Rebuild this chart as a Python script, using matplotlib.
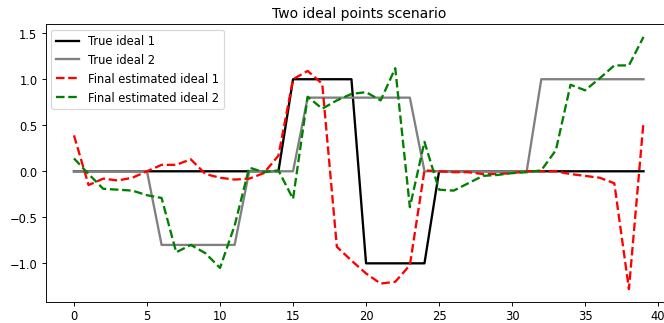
import numpy as np
import matplotlib
matplotlib.use("Agg")
import matplotlib.pyplot as plt

x = np.arange(40)
true_ideal_1 = [0]*15 + [1]*5 + [-1]*5 + [0]*15
true_ideal_2 = [0]*6 + [-0.8]*6 + [0]*4 + [0.8]*8 + [0]*8 + [1]*8
est_ideal_1 = [0.39, -0.15, -0.08, -0.10, -0.07, 0.0, 0.07, 0.07, 0.13, -0.03,
               -0.07, -0.09, -0.08, -0.02, 0.17, 1.0, 1.09, 0.95, -0.82, -0.97,
               -1.11, -1.22, -1.20, -1.02, 0.01, 0.0, -0.01, -0.01, -0.03, -0.03,
               -0.02, 0.0, 0.0, 0.0, -0.03, -0.05, -0.07, -0.13, -1.28, 0.54]
est_ideal_2 = [0.14, -0.03, -0.19, -0.20, -0.21, -0.26, -0.29, -0.88, -0.80, -0.89,
               -1.05, -0.59, 0.04, -0.01, 0.01, -0.30, 0.81, 0.68, 0.77, 0.84,
               0.86, 0.77, 1.12, -0.39, 0.32, -0.20, -0.21, -0.13, -0.05, -0.04,
               -0.02, -0.01, 0.01, 0.23, 0.94, 0.88, 1.01, 1.15, 1.15, 1.46]
xticks = [0, 5, 10, 15, 20, 25, 30, 35, 40]

fig = plt.figure(figsize=(8, 3.9), dpi=83)
ax = fig.add_subplot(111)
# axes runs past the right edge of the image (the reference is cropped there)
fig.subplots_adjust(left=45.5/664, right=672/664, top=1-25/324, bottom=1-302.7/324)
ax.plot(x, true_ideal_1, color='black', lw=2, label='True ideal 1')
ax.plot(x, true_ideal_2, color='gray', lw=2, label='True ideal 2')
ax.plot(x, est_ideal_1, color='red', lw=2, ls='--', label='Final estimated ideal 1')
ax.plot(x, est_ideal_2, color='green', lw=2, ls='--', label='Final estimated ideal 2')
ax.set_xlim(-1.95, 40.95)
ax.set_xticks(xticks)
for lab in ax.get_xticklabels():
    lab.set_clip_on(False)
ax.set_title('Two ideal points scenario')
ax.legend(loc='upper left')
fig.canvas.draw()
fig.savefig('out.png', dpi=83)
